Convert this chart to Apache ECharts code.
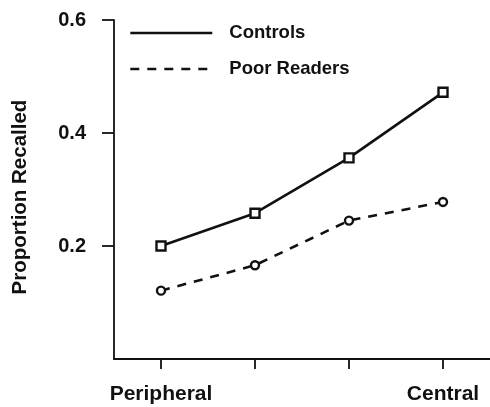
<!DOCTYPE html>
<html>
<head>
<meta charset="utf-8">
<script src="https://cdn.jsdelivr.net/npm/echarts@6/dist/echarts.min.js"></script>
<style>html,body{margin:0;padding:0;background:#fff;}#c{width:490px;height:407px;}</style>
</head>
<body>
<div id="c"></div>
<script>
var categories = ['Peripheral', '', '', 'Central'];
var controls = [0.200, 0.258, 0.356, 0.472];
var poorReaders = [0.121, 0.166, 0.245, 0.278];
var yTicks = [0.2, 0.4, 0.6];
var seriesNames = ['Controls', 'Poor Readers'];

var FONT = '"Liberation Sans", Arial, Helvetica, sans-serif';
var INK = '#111';
var chart = echarts.init(document.getElementById('c'), null, {renderer: 'canvas'});
chart.setOption({
  backgroundColor: '#fff',
  animation: false,
  grid: {left: 114, top: 20, width: 380, height: 339, containLabel: false},
  legend: {
    orient: 'vertical', left: 124, top: 17,
    itemWidth: 82, itemHeight: 14, itemGap: 14,
    data: seriesNames,
    itemStyle: {opacity: 0},
    lineStyle: {width: 2.6},
    textStyle: {fontFamily: FONT, fontWeight: 'bold', fontSize: 18.5, lineHeight: 22, color: INK, padding: [0, 0, 0, 12]}
  },
  xAxis: {
    type: 'category', data: categories, boundaryGap: true,
    axisLine: {lineStyle: {color: INK, width: 1.8}},
    axisTick: {show: true, interval: 0, alignWithLabel: true, length: 10, lineStyle: {color: INK, width: 1.8}},
    axisLabel: {margin: 25, fontFamily: FONT, fontWeight: 'bold', fontSize: 21, color: INK, interval: 0},
    splitLine: {show: false}
  },
  yAxis: {
    type: 'value', min: 0, max: 0.6, interval: 0.2,
    name: 'Proportion Recalled', nameLocation: 'middle', nameRotate: 90, nameGap: 83,
    nameTextStyle: {fontFamily: FONT, fontWeight: 'bold', fontSize: 20.5, color: INK, padding: [0, 15, 0, 0]},
    axisLine: {show: true, lineStyle: {color: INK, width: 1.8}},
    axisTick: {show: true, length: 12, customValues: yTicks, lineStyle: {color: INK, width: 1.8}},
    axisLabel: {margin: 28, customValues: yTicks, fontFamily: FONT, fontWeight: 'bold', fontSize: 20, color: INK,
      formatter: function (v) { return v.toFixed(1); }},
    splitLine: {show: false}
  },
  series: [
    {
      name: seriesNames[0], type: 'line', data: controls,
      symbol: 'rect', symbolSize: 9,
      itemStyle: {color: '#fff', borderColor: INK, borderWidth: 2.4},
      lineStyle: {color: INK, width: 2.6, type: 'solid'}
    },
    {
      name: seriesNames[1], type: 'line', data: poorReaders,
      symbol: 'circle', symbolSize: 8,
      itemStyle: {color: '#fff', borderColor: INK, borderWidth: 2.4},
      lineStyle: {color: INK, width: 2.6, type: [9, 8]}
    }
  ]
});
</script>
</body>
</html>
